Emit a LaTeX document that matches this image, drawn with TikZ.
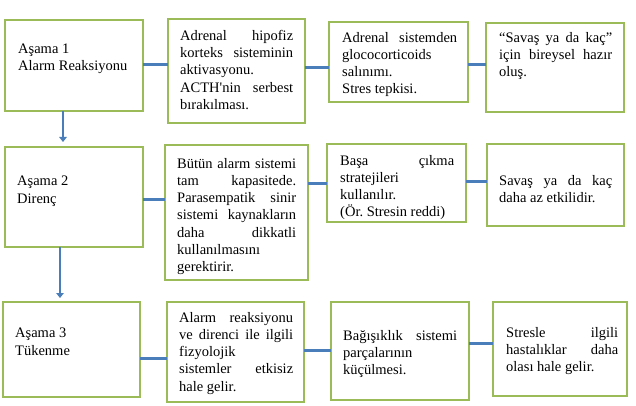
\documentclass[tikz,border=0pt]{standalone}
\usepackage{fontspec}
\setmainfont{Liberation Serif}
\usetikzlibrary{arrows.meta}
\definecolor{boxgreen}{RGB}{155,187,89}
\definecolor{linkblue}{RGB}{74,126,187}
\newlength\jw
\newcommand\SP{\spaceskip=0pt\xspaceskip=0pt\frenchspacing}
\newcommand\J[1]{\leavevmode\hbox to \jw{\SP #1}}
\newcommand\N[1]{\leavevmode\hbox{\SP #1}}
\newcommand\apos{\XeTeXglyph\XeTeXcharglyph"27\relax}
\begin{document}
\begin{tikzpicture}[x=1pt,y=-1pt,
  box/.style={draw=boxgreen,line width=1.3pt,fill=white},
  txt/.style={anchor=north west,inner sep=0pt,align=left,
    font=\fontsize{14.5}{17.2}\selectfont},
  jtxt/.style={txt,text width=#1,execute at begin node={\setlength\jw{#1}}},
  link/.style={draw=linkblue,line width=3pt},
  down/.style={draw=linkblue,line width=2.8pt,-{Triangle[length=5pt,width=7.5pt]}}]
\useasboundingbox[fill=white] (0,0) rectangle (636,406);
% boxes
\path[box] (5,20) rectangle (143,111);
\node[inner sep=0pt,minimum width=138pt,minimum height=91pt] (b1) at (74,65.5) {};
\path[box] (168,19) rectangle (305,123);
\node[inner sep=0pt,minimum width=137pt,minimum height=104pt] (b2) at (236.5,71) {};
\path[box] (329,22) rectangle (468,102);
\node[inner sep=0pt,minimum width=139pt,minimum height=80pt] (b3) at (398.5,62) {};
\path[box] (486,23) rectangle (624,112);
\node[inner sep=0pt,minimum width=138pt,minimum height=89pt] (b4) at (555,67.5) {};
\path[box] (5,147) rectangle (143,247);
\node[inner sep=0pt,minimum width=138pt,minimum height=100pt] (b5) at (74,197) {};
\path[box] (165,145) rectangle (308,280);
\node[inner sep=0pt,minimum width=143pt,minimum height=135pt] (b6) at (236.5,212.5) {};
\path[box] (327,144) rectangle (466,222);
\node[inner sep=0pt,minimum width=139pt,minimum height=78pt] (b7) at (396.5,183) {};
\path[box] (487,144) rectangle (624,226);
\node[inner sep=0pt,minimum width=137pt,minimum height=82pt] (b8) at (555.5,185) {};
\path[box] (3,302) rectangle (140,397);
\node[inner sep=0pt,minimum width=137pt,minimum height=95pt] (b9) at (71.5,349.5) {};
\path[box] (167,302) rectangle (304,402);
\node[inner sep=0pt,minimum width=137pt,minimum height=100pt] (b10) at (235.5,352) {};
\path[box] (331,302) rectangle (469,400);
\node[inner sep=0pt,minimum width=138pt,minimum height=98pt] (b11) at (400,351) {};
\path[box] (493,302) rectangle (627,396);
\node[inner sep=0pt,minimum width=134pt,minimum height=94pt] (b12) at (560,349) {};
% texts
\node[txt] (t1) at (18,44) {\N{Aşama 1}\\\N{Alarm Reaksiyonu}};
\node[jtxt=113pt] (t2) at (180,30) {\J{Adrenal hipofiz}\\\J{korteks sisteminin}\\aktivasyonu.\\\J{ACTH\apos nin serbest}\\bırakılması.};
\node[jtxt=115pt] (t3) at (342,32) {\J{Adrenal sistemden}\\glococorticoids\\salınımı.\\\N{Stres tepkisi.}};
\node[jtxt=113pt] (t4) at (499,32) {\J{“Savaş ya da kaç”}\\\J{için bireysel hazır}\\oluş.};
\node[txt] (t5) at (17,176) {\N{Aşama 2}\\Direnç};
\node[jtxt=119pt] (t6) at (177,158) {\J{Bütün alarm sistemi}\\\J{tam kapasitede.}\\\J{Parasempatik sinir}\\\J{sistemi kaynakların}\\\J{daha dikkatli}\\kullanılmasını\\gerektirir.};
\node[jtxt=114pt] (t7) at (340,155) {\J{Başa çıkma}\\stratejileri\\kullanılır.\\\N{(Ör. Stresin reddi)}};
\node[jtxt=113pt] (t8) at (499,175) {\J{Savaş ya da kaç}\\\N{daha az etkilidir.}};
\node[txt] (t9) at (15,328) {\N{Aşama 3}\\Tükenme};
\node[jtxt=114pt] (t10) at (179,312) {\J{Alarm reaksiyonu}\\\J{ve direnci ile ilgili}\\fizyolojik\\\J{sistemler etkisiz}\\\N{hale gelir.}};
\node[jtxt=114pt] (t11) at (343,330) {\J{Bağışıklık sistemi}\\parçalarının\\küçülmesi.};
\node[jtxt=112pt] (t12) at (506,327) {\J{Stresle ilgili}\\\J{hastalıklar daha}\\\N{olası hale gelir.}};
% connectors
\draw[link] (b1.east|-0,65) -- (b2.west|-0,65);
\draw[link] (b2.east|-0,68) -- (b3.west|-0,68);
\draw[link] (b3.east|-0,65) -- (b4.west|-0,65);
\draw[link] (b5.east|-0,199) -- (b6.west|-0,199);
\draw[link] (b6.east|-0,183) -- (b7.west|-0,183);
\draw[link] (b7.east|-0,181) -- (b8.west|-0,181);
\draw[link] (b9.east|-0,358) -- (b10.west|-0,358);
\draw[link] (b10.east|-0,350) -- (b11.west|-0,350);
\draw[link] (b11.east|-0,343) -- (b12.west|-0,343);
\coordinate (a1) at (63,142);
\coordinate (a2) at (60,298);
\draw[down] (b1.south-|a1) -- (a1);
\draw[down] (b5.south-|a2) -- (a2);
\end{tikzpicture}
\end{document}
